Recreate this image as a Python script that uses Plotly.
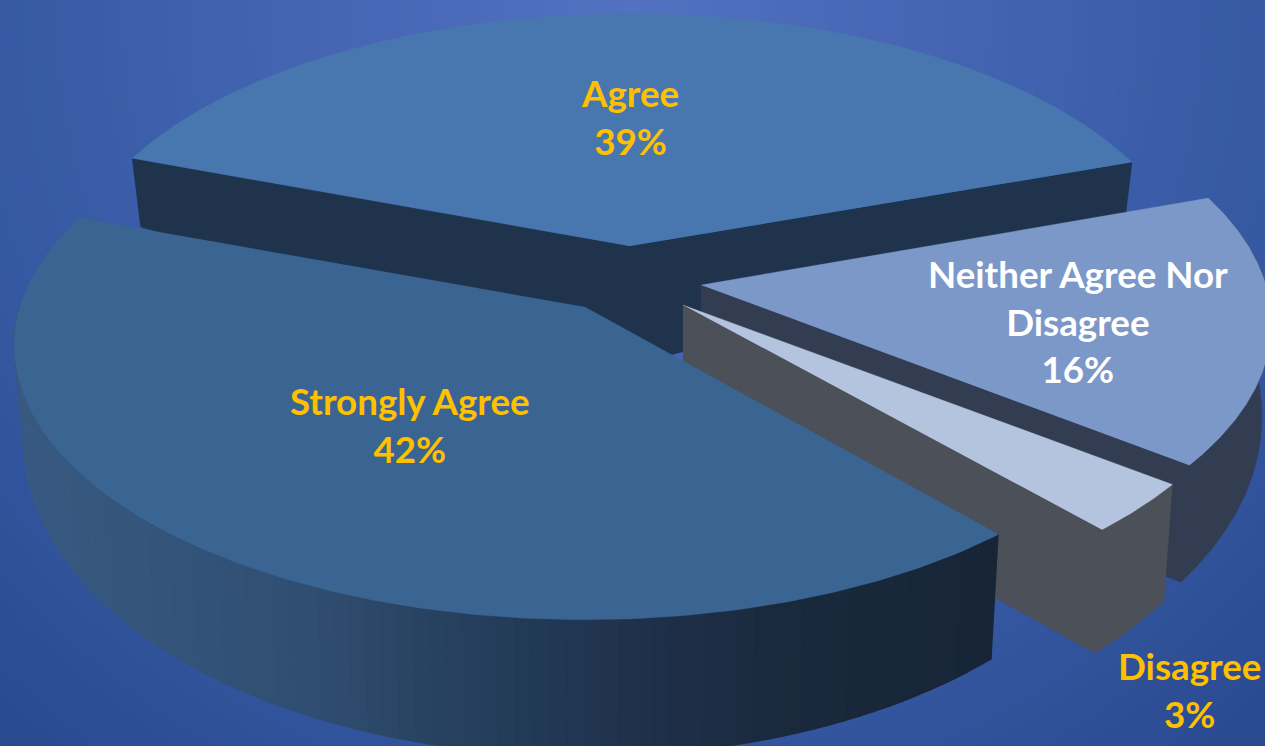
import numpy as np
import plotly.graph_objects as go

# ---- data ----
categories = ["Agree", "Neither Agree Nor Disagree", "Disagree", "Strongly Agree"]
values = [39, 16, 3, 42]
label_text = ["Agree", "Neither Agree Nor<br>Disagree", "Disagree", "Strongly Agree"]

# ---- style / layout ----
W, H = 1265, 746
top_colors = ["#4877b0", "#7c98c8", "#b4c4de", "#3a6593"]
wall_colors = ["#1f334d", "#333d52", "#4c5059", "#2a4465"]
label_colors = ["#FFC000", "#FFFFFF", "#FFC000", "#FFC000"]
apex_px = [(630, 246), (701, 285), (683, 305), (585, 307)]
radius_scale = [0.985, 1.0, 1.0, 1.0]
view_nudge = [0.0, -0.5, -0.7, 0.0]  # small per-slice correction for the view angle (deg)
rim_limit = [None, 360, 360, 272]    # last visible angle of each outer rim
label_px = [(630, 117), (1078, 321), (1189, 690), (410, 425)]
ROTATION = -69.7      # degrees clockwise from "up" where the first slice starts
R, TILT, PERSP = 565.0, 269.0, 0.14
SHRINK = 0.983        # bottom of the extrusion converges slightly
APEX_DEPTH = 120.0
FONT = "Lato"
FONT_SIZE = 36.7
RIM_STOPS = [(0.0, (56, 90, 130)), (0.3, (48, 78, 113)), (0.5, (35, 60, 88)), (0.62, (32, 50, 78)),
             (0.78, (26, 41, 61)), (1.0, (23, 37, 55))]
BG_STOPS = [(0.0, (82, 114, 194)), (0.35, (68, 100, 178)), (0.68, (53, 88, 162)), (1.0, (40, 72, 140))]
BG_CENTER = (630, 20)
BG_RADIUS = 1000


def lerp(stops, t):
    t = min(max(t, 0.0), 1.0)
    for (a, ca), (b, cb) in zip(stops, stops[1:]):
        if t <= b:
            f = (t - a) / (b - a)
            return "rgb(%d,%d,%d)" % tuple(round(p + (q - p) * f) for p, q in zip(ca, cb))
    return "rgb(%d,%d,%d)" % stops[-1][1]


def rim_top(apex, theta, scale=1.0):
    """Perspective projection of the disc point at theta (deg, clockwise from far side)."""
    th = np.radians(theta)
    z = -np.cos(th)
    s = scale / (1.0 - PERSP * z)
    return apex[0] + R * np.sin(th) * s, apex[1] + TILT * z * s


def rim_bottom(apex, theta, scale=1.0):
    x, y = rim_top(apex, theta, scale)
    z = -np.cos(np.radians(theta))
    return apex[0] + (x - apex[0]) * SHRINK, y + 86.0 + 50.0 * z


def poly(xs, ys, color, lw=0.5):
    return go.Scatter(
        x=list(xs), y=list(ys), mode="lines", fill="toself", fillcolor=color,
        line=dict(color=color, width=lw), hoverinfo="skip", showlegend=False,
    )


shares = np.array(values, dtype=float) / sum(values) * 360.0
edges = ROTATION + np.concatenate([[0.0], np.cumsum(shares)])

fig = go.Figure()

# back to front: Agree, Neither, Disagree, Strongly Agree
for i, name in enumerate(categories):
    a0, a1 = edges[i] + view_nudge[i], edges[i + 1] + view_nudge[i]
    apex = apex_px[i]
    sc = radius_scale[i]
    bottom_apex = (apex[0], apex[1] + APEX_DEPTH)
    thetas = np.linspace(a0, a1, 200)
    top = [rim_top(apex, t, sc) for t in thetas]

    # radial faces that look towards the viewer
    if i < 3:
        faces = (a0, a1) if i == 0 else (a1,)
        for a in faces:
            p, q = rim_top(apex, a, sc), rim_bottom(apex, a, sc)
            fig.add_trace(poly([apex[0], p[0], q[0], bottom_apex[0]],
                               [apex[1], p[1], q[1], bottom_apex[1]], wall_colors[i]))

    # outer rim (front part only)
    if rim_limit[i] is not None:
        vis = thetas[thetas <= rim_limit[i]]
        rt = [rim_top(apex, t, sc) for t in vis]
        rb = [rim_bottom(apex, t, sc) for t in vis]
        if i == 3:
            vis = vis[::2]
            rt, rb = rt[::2], rb[::2]
            for j in range(len(vis) - 1):
                frac = (rt[j][0] - 20) / (998 - 20)
                col = lerp(RIM_STOPS, frac)
                fig.add_trace(poly([rt[j][0], rt[j + 1][0], rb[j + 1][0], rb[j][0]],
                                   [rt[j][1], rt[j + 1][1], rb[j + 1][1], rb[j][1]], col, lw=2))
        else:
            fig.add_trace(poly([p[0] for p in rt] + [p[0] for p in rb[::-1]],
                               [p[1] for p in rt] + [p[1] for p in rb[::-1]], wall_colors[i]))

    # top face
    fig.add_trace(poly([apex[0]] + [p[0] for p in top], [apex[1]] + [p[1] for p in top], top_colors[i], lw=0.3))

annotations = [
    dict(x=lx, y=ly, xref="x", yref="y", showarrow=False, align="center",
         text=f"<b>{txt}<br>{v}%</b>",
         font=dict(family=FONT, size=FONT_SIZE, color=c))
    for (lx, ly), txt, v, c in zip(label_px, label_text, values, label_colors)
]

# radial background gradient as concentric discs
shapes = []
n_rings = 70
for k in range(n_rings):
    t = 1.0 - k / n_rings
    rr = BG_RADIUS * 1.15 * t
    shapes.append(dict(type="circle", xref="x", yref="y", layer="below",
                       x0=BG_CENTER[0] - rr, x1=BG_CENTER[0] + rr,
                       y0=BG_CENTER[1] - rr, y1=BG_CENTER[1] + rr,
                       fillcolor=lerp(BG_STOPS, t * 1.15), line=dict(width=0)))

fig.update_layout(
    width=W, height=H, margin=dict(l=0, r=0, t=0, b=0),
    paper_bgcolor="#28488c", plot_bgcolor="#28488c",
    xaxis=dict(range=[0, W], visible=False, fixedrange=True),
    yaxis=dict(range=[H, 0], visible=False, fixedrange=True),
    annotations=annotations, shapes=shapes, showlegend=False,
)

fig.write_html("out.html", post_script="document.body.style.margin='0';document.body.style.overflow='hidden';",
               config={"displayModeBar": False})
